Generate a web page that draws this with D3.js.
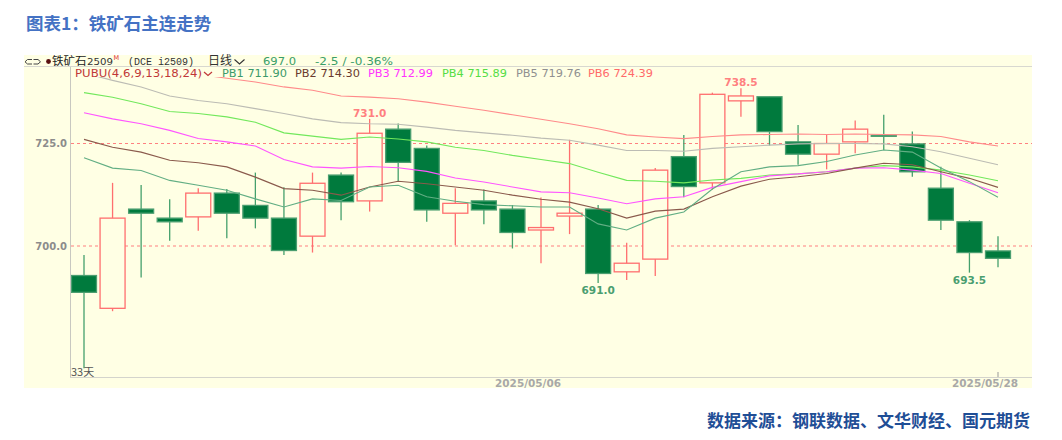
<!DOCTYPE html>
<html>
<head>
<meta charset="utf-8">
<script src="https://cdn.jsdelivr.net/npm/d3@7"></script>
<style>
  html, body { margin: 0; padding: 0; background: #ffffff; }
  svg { display: block; }
</style>
</head>
<body>
<svg id="chart" width="1062" height="440"></svg>
<script>
// Daily bars of the DCE iron ore main contract (i2509)
const dates = [
  "2025/04/09","2025/04/10","2025/04/11","2025/04/14","2025/04/15","2025/04/16","2025/04/17","2025/04/18",
  "2025/04/21","2025/04/22","2025/04/23","2025/04/24","2025/04/25","2025/04/28","2025/04/29","2025/04/30",
  "2025/05/06","2025/05/07","2025/05/08","2025/05/09","2025/05/12","2025/05/13","2025/05/14","2025/05/15",
  "2025/05/16","2025/05/19","2025/05/20","2025/05/21","2025/05/22","2025/05/23","2025/05/26","2025/05/27",
  "2025/05/28"
];
const openP  = [692.8,684.8,709.0,706.8,707.1,712.9,709.9,706.8,702.4,717.3,711.0,728.5,723.8,708.0,711.0,709.0,
                703.9,707.3,709.0,693.7,696.8,721.8,715.4,735.4,736.4,725.4,722.4,725.4,727.0,724.9,714.1,705.9,698.8];
const highP  = [697.8,715.4,714.9,711.4,714.1,713.9,717.9,714.3,717.9,717.9,731.0,729.9,724.5,714.1,713.8,710.0,
                711.8,725.9,710.0,700.8,719.0,727.1,737.4,738.5,736.4,729.5,727.1,730.6,732.0,727.9,719.3,706.3,702.4];
const lowP   = [670.2,684.1,692.3,701.3,703.7,701.9,704.3,697.8,698.4,706.3,708.4,715.7,705.9,700.2,705.3,699.4,
                695.8,702.9,691.0,691.7,692.7,711.9,713.7,731.5,724.5,719.8,718.7,722.6,723.4,716.9,703.9,693.5,694.8];
const closeP = [688.7,706.8,708.0,705.9,712.9,708.0,706.8,698.9,715.3,710.8,727.5,720.4,708.8,710.4,708.8,703.3,
                704.5,708.0,693.3,695.8,718.5,714.5,737.0,736.6,727.9,722.4,725.0,728.5,726.9,718.1,706.3,698.4,697.0];

// PUBU (waterfall) lines PB1..PB6
const pb1 = [721.5,719.0,718.4,716.0,714.8,713.6,711.5,709.5,711.5,711.1,714.4,714.8,712.0,710.9,710.1,709.8,
             709.5,709.5,705.4,703.9,706.8,708.3,713.9,718.1,719.3,719.6,720.6,722.2,723.4,722.9,719.0,715.7,711.9];
const pb2 = [726.0,724.1,722.9,720.9,720.3,719.3,716.8,714.0,713.6,712.4,714.4,715.8,715.2,714.4,713.6,712.4,
             711.4,710.7,709.1,706.8,708.5,709.0,712.0,714.6,716.3,716.9,717.7,719.0,720.2,719.8,718.1,716.5,714.3];
const pb3 = [732.5,731.0,729.8,728.2,726.2,725.4,724.4,721.1,719.3,719.0,719.4,719.1,718.2,716.6,715.6,714.4,
             713.2,713.0,711.7,710.3,711.5,712.0,714.3,715.7,717.1,717.6,718.1,719.0,719.1,718.5,717.7,715.3,713.0];
const pb4 = [737.4,736.3,734.7,732.8,732.3,731.5,730.2,727.6,726.8,726.0,726.6,726.1,725.4,724.1,723.3,722.1,
             721.1,720.1,718.0,716.0,715.8,715.4,716.1,716.5,717.3,717.6,718.1,719.0,719.6,719.3,718.5,717.3,715.9];
const pb5 = [742.2,740.4,738.8,736.6,735.5,734.7,733.5,732.3,731.0,730.1,729.8,729.7,729.0,728.2,727.6,727.0,
             726.3,725.8,724.6,723.3,723.3,723.1,723.8,724.2,724.6,724.9,725.0,725.0,724.9,724.2,723.0,721.4,719.8];
const pb6 = [744.9,744.1,743.4,742.7,741.9,740.9,740.0,738.8,738.0,736.6,736.3,735.9,735.1,734.1,733.1,732.0,
             730.9,729.8,728.6,727.1,726.6,726.2,726.7,727.1,727.2,727.3,727.2,727.3,727.2,727.1,726.7,725.4,724.4];

const pbNames  = ["PB1","PB2","PB3","PB4","PB5","PB6"];
const pbLast   = ["711.90","714.30","712.99","715.89","719.76","724.39"];
const refLevels = [725.0, 700.0];
const tickDates = ["2025/05/06","2025/05/28"];
// bars whose extreme price is written on the chart
const highMarks = [10, 23];
const lowMarks  = [18, 31];

const svg = d3.select("#chart");
const CJK = "'Noto Sans CJK SC', sans-serif";
const LAT = "'DejaVu Sans', Verdana, sans-serif";

// layout
const frame = {x0: 24, x1: 1032, y0: 55, y1: 388};
const plot  = {left: 70, right: 1032, top: 77, bottom: 378};
const bg = "#ffffe4";

const x = d3.scalePoint().domain(dates).range([84, 998]);
const y = d3.scaleLinear().domain([700, 725]).range([246, 143.5]);
const bodyW = 25;

// title
svg.append("text").attr("x", 26).attr("y", 30)
  .attr("font-family", CJK).attr("font-weight", 700).attr("font-size", 17.5)
  .attr("fill", "#4472c4").text("图表1：铁矿石主连走势");

// chart frame
svg.append("rect").attr("x", frame.x0).attr("y", frame.y0)
  .attr("width", frame.x1 - frame.x0).attr("height", frame.y1 - frame.y0).attr("fill", bg);
svg.append("line").attr("x1", frame.x0).attr("x2", frame.x1).attr("y1", 66.5).attr("y2", 66.5)
  .attr("stroke", "#d8d8d0").attr("stroke-width", 1);
svg.append("line").attr("x1", plot.left + 0.5).attr("x2", plot.left + 0.5).attr("y1", 67).attr("y2", plot.bottom)
  .attr("stroke", "#c8c8c0").attr("stroke-width", 1);
svg.append("line").attr("x1", plot.left).attr("x2", frame.x1).attr("y1", plot.bottom - 0.5).attr("y2", plot.bottom - 0.5)
  .attr("stroke", "#d4d4cc").attr("stroke-width", 1.2);

// header row
const hdr = svg.append("g").attr("font-size", 11);
hdr.append("path").attr("d", "M32,59.5 L27.5,59.5 L25,61.8 L27.5,64 L32,64 M33.5,59.5 L38,59.5 L40.5,61.8 L38,64 L33.5,64")
  .attr("fill", "none").attr("stroke", "#444").attr("stroke-width", 1);
hdr.append("circle").attr("cx", 48.5).attr("cy", 61.5).attr("r", 2.4).attr("fill", "#5a1010");
hdr.append("text").attr("x", 52).attr("y", 65).attr("font-family", CJK).attr("font-size", 11.5)
  .attr("fill", "#222").text("铁矿石");
hdr.append("text").attr("x", 87).attr("y", 65).attr("font-family", LAT).attr("font-size", 9.5)
  .attr("textLength", 26).attr("lengthAdjust", "spacingAndGlyphs").attr("fill", "#333").text("2509");
hdr.append("text").attr("x", 113.5).attr("y", 60).attr("font-family", LAT).attr("font-size", 6.5)
  .attr("fill", "#e03030").text("M");
hdr.append("text").attr("x", 128).attr("y", 65).attr("font-family", "'Liberation Mono', monospace").attr("font-size", 11)
  .attr("textLength", 66).attr("lengthAdjust", "spacingAndGlyphs").attr("fill", "#333").text("(DCE i2509)");
hdr.append("text").attr("x", 208).attr("y", 65).attr("font-family", CJK).attr("font-size", 12)
  .attr("fill", "#333").text("日线");
hdr.append("path").attr("d", "M234.5,59.5 L239.5,64 L244.5,59.5").attr("fill", "none")
  .attr("stroke", "#333").attr("stroke-width", 1.1);
hdr.append("text").attr("x", 263).attr("y", 65).attr("font-family", LAT).attr("font-size", 10.5)
  .attr("textLength", 33).attr("lengthAdjust", "spacingAndGlyphs").attr("fill", "#3a9e68").text("697.0");
hdr.append("text").attr("x", 315).attr("y", 65).attr("font-family", LAT).attr("font-size", 10.5)
  .attr("textLength", 78).attr("lengthAdjust", "spacingAndGlyphs").attr("fill", "#3a9e68").text("-2.5 / -0.36%");

// legend row
const pbColors = ["#62ae84", "#8a5a4c", "#ff55ff", "#72e85c", "#bcbcb4", "#ff8a8a"];
const pbText   = ["#3c9a6a", "#6a3a2e", "#ff33ff", "#55dd44", "#909090", "#ff6a6a"];
svg.append("text").attr("x", 75).attr("y", 76.5).attr("font-family", LAT).attr("font-size", 10.5)
  .attr("textLength", 127).attr("lengthAdjust", "spacingAndGlyphs").attr("fill", "#c03838")
  .text("PUBU(4,6,9,13,18,24)");
svg.append("path").attr("d", "M204,72 L208,75.5 L212,72").attr("fill", "none")
  .attr("stroke", "#c03838").attr("stroke-width", 1.2);
const legX = [222, 295, 368, 442, 516, 588];
pbNames.forEach((n, k) => {
  svg.append("text").attr("x", legX[k]).attr("y", 76.5).attr("font-family", LAT).attr("font-size", 10.5)
    .attr("textLength", 65).attr("lengthAdjust", "spacingAndGlyphs")
    .attr("fill", pbText[k]).text(n + " " + pbLast[k]);
});

// y labels and reference levels
refLevels.forEach(v => {
  svg.append("text").attr("x", 67).attr("y", y(v) + 3.5).attr("text-anchor", "end")
    .attr("font-family", LAT).attr("font-weight", 700).attr("font-size", 10)
    .attr("fill", "#8c8c8c").text(d3.format(".1f")(v));
  svg.append("line").attr("x1", plot.left + 1).attr("x2", frame.x1).attr("y1", y(v)).attr("y2", y(v))
    .attr("stroke", "#ff8080").attr("stroke-width", 1.2).attr("stroke-dasharray", "3,3");
});

// plot clip
svg.append("clipPath").attr("id", "plotClip").append("rect")
  .attr("x", plot.left + 1).attr("y", plot.top).attr("width", plot.right - plot.left - 1)
  .attr("height", plot.bottom - plot.top - 1);
const g = svg.append("g").attr("clip-path", "url(#plotClip)");

const bars = dates.map((d, i) => ({d, o: openP[i], h: highP[i], l: lowP[i], c: closeP[i], up: closeP[i] >= openP[i]}));
const upCol = "#ff6f6f", dnFill = "#007a3d", dnEdge = "#4a9e70", dnWick = "#45a06c";

// wicks
g.selectAll("line.wick").data(bars).join("line").attr("class", "wick")
  .attr("x1", b => x(b.d)).attr("x2", b => x(b.d))
  .attr("y1", b => y(b.h)).attr("y2", b => y(b.l))
  .attr("stroke", b => b.up ? upCol : dnWick).attr("stroke-width", 1.3);

// bodies
g.selectAll("rect.body").data(bars).join("rect").attr("class", "body")
  .attr("x", b => x(b.d) - bodyW / 2)
  .attr("y", b => y(Math.max(b.o, b.c)))
  .attr("width", bodyW)
  .attr("height", b => Math.max(1, Math.abs(y(b.o) - y(b.c))))
  .attr("fill", b => b.up ? bg : dnFill)
  .attr("stroke", b => b.up ? upCol : dnEdge)
  .attr("stroke-width", 1.3);

// PUBU lines
const lineGen = d3.line().x((v, i) => x(dates[i])).y(v => y(v));
[pb6, pb5, pb4, pb3, pb2, pb1].forEach((s, j) => {
  const k = 5 - j;
  g.append("path").datum(s).attr("d", lineGen).attr("fill", "none")
    .attr("stroke", pbColors[k]).attr("stroke-width", 1.1);
});

// extreme price labels
highMarks.forEach(i => {
  svg.append("text").attr("x", x(dates[i])).attr("y", y(highP[i]) - 2).attr("text-anchor", "middle")
    .attr("font-family", LAT).attr("font-weight", 700).attr("font-size", 10.5)
    .attr("fill", "#ff8080").text(d3.format(".1f")(highP[i]));
});
lowMarks.forEach(i => {
  svg.append("text").attr("x", x(dates[i])).attr("y", y(lowP[i]) + 11).attr("text-anchor", "middle")
    .attr("font-family", LAT).attr("font-weight", 700).attr("font-size", 10.5)
    .attr("fill", "#4a9e70").text(d3.format(".1f")(lowP[i]));
});

// bar count
svg.append("text").attr("x", 71).attr("y", 376).attr("font-family", CJK).attr("font-size", 11)
  .attr("fill", "#555").text(dates.length + "天");

// date axis
tickDates.forEach((d, k) => {
  if (k === tickDates.length - 1) {
    svg.append("line").attr("x1", x(d)).attr("x2", x(d)).attr("y1", 372).attr("y2", 377)
      .attr("stroke", "#999").attr("stroke-width", 1);
  }
  svg.append("text").attr("x", x(d) - 13).attr("y", 387).attr("text-anchor", "middle")
    .attr("font-family", LAT).attr("font-weight", 700).attr("font-size", 10)
    .attr("textLength", 66).attr("lengthAdjust", "spacingAndGlyphs")
    .attr("fill", "#a8a8a8").text(d);
});

// source note
svg.append("text").attr("x", 1030).attr("y", 427).attr("text-anchor", "end")
  .attr("font-family", CJK).attr("font-weight", 700).attr("font-size", 17)
  .attr("fill", "#1f4e96").text("数据来源：钢联数据、文华财经、国元期货");
</script>
</body>
</html>
